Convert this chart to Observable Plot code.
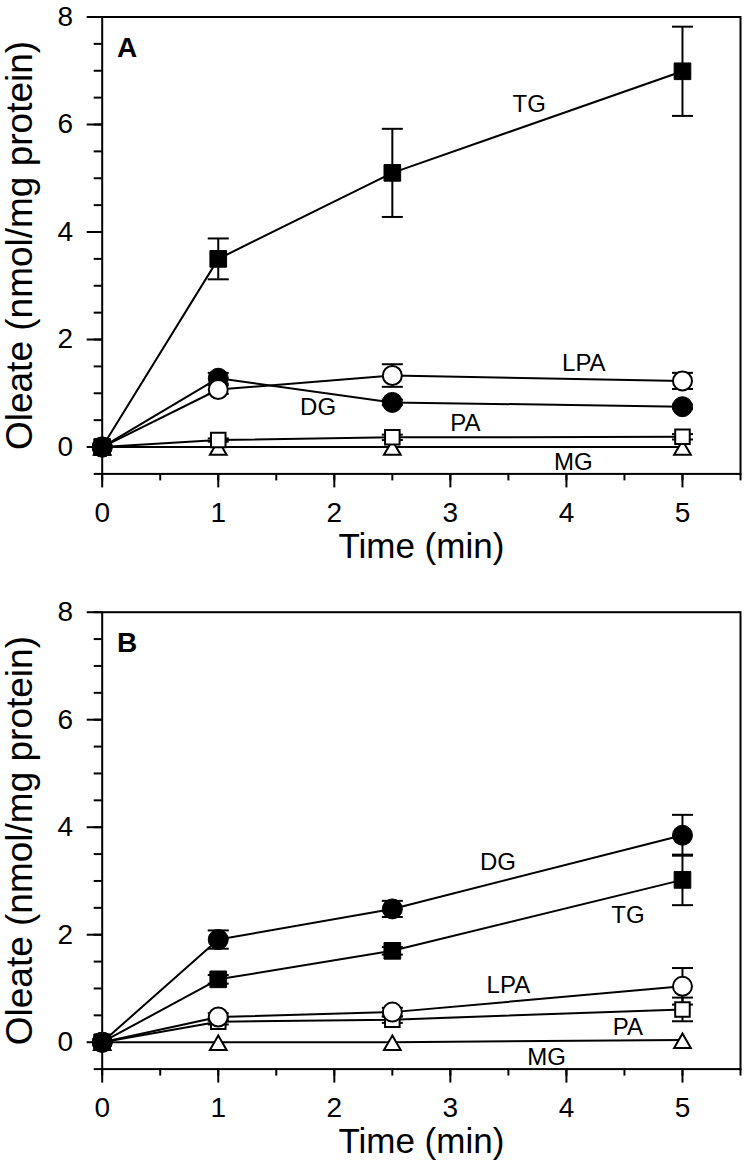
<!DOCTYPE html>
<html>
<head>
<meta charset="utf-8">
<script src="https://cdn.jsdelivr.net/npm/d3@7"></script>
<script src="https://cdn.jsdelivr.net/npm/@observablehq/plot@0.6"></script>
<style>
  html, body { margin: 0; padding: 0; background: #fff; }
  svg { display: block; }
</style>
</head>
<body>
<div id="chart"></div>
<script>
// ---- data ----
const times = [0, 1, 2.5, 5];
const seriesNames = ["TG", "DG", "LPA", "PA", "MG"];

// Panel A
const aTG  = [0, 3.50, 5.10, 6.99];
const aDG  = [0, 1.28, 0.83, 0.75];
const aLPA = [0, 1.07, 1.33, 1.23];
const aPA  = [0, 0.13, 0.18, 0.19];
const aMG  = [0, 0.00, 0.00, 0.00];
const aTGErr  = [0, 0.38, 0.82, 0.83];
const aDGErr  = [0, 0.10, 0.05, 0.04];
const aLPAErr = [0, 0.08, 0.21, 0.15];
const aPAErr  = [0, 0.03, 0.05, 0.05];
const aMGErr  = [0, 0, 0, 0];

// Panel B
const bTG  = [0, 1.17, 1.70, 3.02];
const bDG  = [0, 1.91, 2.48, 3.85];
const bLPA = [0, 0.47, 0.56, 1.04];
const bPA  = [0, 0.38, 0.42, 0.61];
const bMG  = [0, 0.00, 0.00, 0.04];
const bTGErr  = [0, 0.08, 0.07, 0.47];
const bDGErr  = [0, 0.17, 0.15, 0.38];
const bLPAErr = [0, 0.07, 0.08, 0.34];
const bPAErr  = [0, 0.05, 0.06, 0.22];
const bMGErr  = [0, 0, 0, 0];

// Series labels drawn inside each panel (data coordinates)
const labelTexts = ["TG", "LPA", "DG", "PA", "MG"];
const labelAX = [3.68, 4.15, 1.86, 3.13, 4.06];
const labelAY = [6.38, 1.55, 0.74, 0.44, -0.29];
const labelBTexts = ["DG", "TG", "LPA", "PA", "MG"];
const labelBX = [3.41, 4.53, 3.50, 4.53, 3.83];
const labelBY = [3.35, 2.36, 1.05, 0.28, -0.28];

const panelLetters = ["A", "B"];
const letterX = 0.215;
const letterY = 7.42;

// Axes
const xMajorTicks = [0, 1, 2, 3, 4, 5];
const xMinorTicks = [0, 0.5, 1, 1.5, 2, 2.5, 3, 3.5, 4, 4.5, 5, 5.5];
const yMajorTicks = [0, 2, 4, 6, 8];
const yMinorTicks = [-0.5, 0, 0.5, 1, 1.5, 2, 2.5, 3, 3.5, 4, 4.5, 5, 5.5, 6, 6.5, 7, 7.5, 8];
const xDomain = [0, 5.5];
const yDomain = [-0.5, 8];
const xTitle = "Time (min)";
const yTitle = "Oleate (nmol/mg protein)";

// ---- drawing ----
const FONT = "'Liberation Sans', Arial, Helvetica, sans-serif";
const SW = 2;
const capSymbol = {
  draw(ctx) { ctx.moveTo(-10.5, 0); ctx.lineTo(10.5, 0); }
};

function panel(vals, errs, labT, labX, labY, letter, height, marginTop, marginBottom) {
  const rows = [];
  seriesNames.forEach((s, i) =>
    times.forEach((t, j) => rows.push({series: s, t, v: vals[i][j], e: errs[i][j]}))
  );
  const bars = rows.filter(d => d.e > 0);
  const labels = labT.map((text, i) => ({text, x: labX[i], y: labY[i]}));
  const sel = s => rows.filter(d => d.series === s);

  return Plot.plot({
    width: 745,
    height,
    marginTop,
    marginBottom,
    marginLeft: 101.7,
    marginRight: 5,
    x: {domain: xDomain},
    y: {domain: yDomain},
    style: {fontFamily: FONT, background: "#fff", color: "#000", overflow: "visible"},
    marks: [
      Plot.axisX({ticks: xMinorTicks, tickSize: 7, text: null, label: null, strokeWidth: SW}),
      Plot.axisX({ticks: xMajorTicks, tickSize: 14, tickPadding: 14, fontSize: 28, tickFormat: d => String(d), label: null, strokeWidth: SW}),
      Plot.axisY({ticks: yMinorTicks, tickSize: 8, text: null, label: null, strokeWidth: SW}),
      Plot.axisY({ticks: yMajorTicks, tickSize: 15, tickPadding: 14, fontSize: 28, tickFormat: d => String(d), label: null, strokeWidth: SW}),
      Plot.frame({stroke: "black", strokeWidth: SW}),
      Plot.text([xTitle], {frameAnchor: "bottom", dy: 59, lineAnchor: "top", fontSize: 35, fill: "black"}),
      Plot.text([yTitle], {frameAnchor: "left", textAnchor: "middle", rotate: -90, dx: -82, fontSize: 37, fill: "black"}),
      Plot.text([letter], {x: letterX, y: letterY, fontSize: 28, fontWeight: "bold", fill: "black"}),
      Plot.text(labels, {x: "x", y: "y", text: "text", fontSize: 24, fill: "black"}),
      Plot.line(rows, {x: "t", y: "v", z: "series", stroke: "black", strokeWidth: SW}),
      Plot.ruleX(bars, {x: "t", y1: d => d.v - d.e, y2: d => d.v + d.e, stroke: "black", strokeWidth: SW}),
      Plot.dot(bars, {x: "t", y: d => d.v + d.e, symbol: capSymbol, fill: "none", stroke: "black", strokeWidth: SW}),
      Plot.dot(bars, {x: "t", y: d => d.v - d.e, symbol: capSymbol, fill: "none", stroke: "black", strokeWidth: SW}),
      Plot.dot(sel("MG"), {x: "t", y: "v", symbol: "triangle", r: 6.2, dy: 3, fill: "white", stroke: "black", strokeWidth: SW}),
      Plot.dot(sel("PA"), {x: "t", y: "v", symbol: "square", r: 8.2, fill: "white", stroke: "black", strokeWidth: SW}),
      Plot.dot(sel("DG"), {x: "t", y: "v", symbol: "circle", r: 10, fill: "black", stroke: "black", strokeWidth: 1}),
      Plot.dot(sel("LPA"), {x: "t", y: "v", symbol: "circle", r: 9.5, fill: "white", stroke: "black", strokeWidth: SW}),
      Plot.dot(sel("TG"), {x: "t", y: "v", symbol: "square", r: 9.4, fill: "black", stroke: "black", strokeWidth: 1})
    ]
  });
}

const chart = document.getElementById("chart");
chart.appendChild(panel(
  [aTG, aDG, aLPA, aPA, aMG], [aTGErr, aDGErr, aLPAErr, aPAErr, aMGErr],
  labelTexts, labelAX, labelAY, panelLetters[0], 582, 16.5, 108.6));
chart.appendChild(panel(
  [bTG, bDG, bLPA, bPA, bMG], [bTGErr, bDGErr, bLPAErr, bPAErr, bMGErr],
  labelBTexts, labelBX, labelBY, panelLetters[1], 583, 29.7, 96.4));
</script>
</body>
</html>
